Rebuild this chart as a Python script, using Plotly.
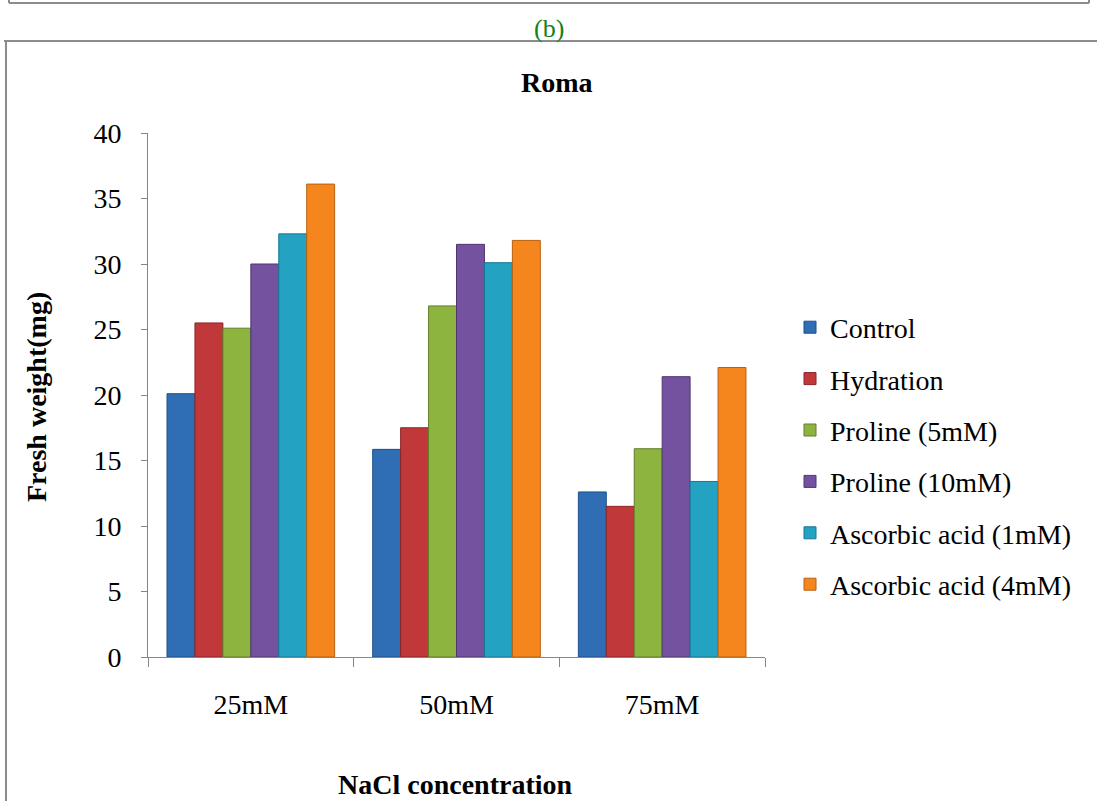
import plotly.graph_objects as go

categories = ["25mM", "50mM", "75mM"]
series_names = ["Control", "Hydration", "Proline (5mM)", "Proline (10mM)",
                "Ascorbic acid (1mM)", "Ascorbic acid (4mM)"]
control = [20.1, 15.85, 12.6]
hydration = [25.5, 17.5, 11.5]
proline_5 = [25.1, 26.8, 15.9]
proline_10 = [30.0, 31.5, 21.4]
ascorbic_1 = [32.3, 30.1, 13.4]
ascorbic_4 = [36.1, 31.8, 22.1]
y_ticks = [0, 5, 10, 15, 20, 25, 30, 35, 40]

series_values = [control, hydration, proline_5, proline_10, ascorbic_1, ascorbic_4]
colors = ["#2F6DB5", "#C0383A", "#8CB43E", "#74529F", "#24A2C2", "#F5861E"]
edges = ["#1E4F87", "#8E2426", "#637F2A", "#4F3671", "#177893", "#B8600F"]

W, H = 1097, 801
L, R, T, B = 148, 765, 133, 657   # plot area in pixels

fig = go.Figure()
for i, (name, vals) in enumerate(zip(series_names, series_values)):
    fig.add_trace(go.Bar(
        x=categories, y=vals, name=name, legendgroup=name,
        marker=dict(color=colors[i], line=dict(color=edges[i], width=1)),
    ))

def px(x):
    return (x - L) / (R - L)

def py(y):
    return (B - y) / (B - T)

serif = "Liberation Serif, Times New Roman, serif"
border = "#8c8c8c"

shapes = [
    dict(type="line", xref="paper", yref="paper", x0=px(9), x1=px(1089), y0=py(3), y1=py(3),
         line=dict(color=border, width=2)),
    dict(type="line", xref="paper", yref="paper", x0=px(9), x1=px(9), y0=py(-4), y1=py(3),
         line=dict(color=border, width=2)),
    dict(type="line", xref="paper", yref="paper", x0=px(1089), x1=px(1089), y0=py(-4), y1=py(3),
         line=dict(color=border, width=2)),
    dict(type="line", xref="paper", yref="paper", x0=px(4), x1=px(1100), y0=py(41), y1=py(41),
         line=dict(color=border, width=2)),
    dict(type="line", xref="paper", yref="paper", x0=px(6), x1=px(6), y0=py(41), y1=py(810),
         line=dict(color=border, width=2)),
]

annotations = [
    dict(text="(b)", xref="paper", yref="paper", x=px(549), y=py(28), showarrow=False,
         font=dict(family=serif, size=26, color="#178017"), xanchor="center", yanchor="middle"),
    dict(text="<b>Roma</b>", xref="paper", yref="paper", x=px(557), y=py(83), showarrow=False,
         font=dict(family=serif, size=28, color="black"), xanchor="center", yanchor="middle"),
    dict(text="<b>NaCl concentration</b>", xref="paper", yref="paper", x=px(455), y=py(784),
         showarrow=False, font=dict(family=serif, size=28, color="black"),
         xanchor="center", yanchor="middle"),
    dict(text="<b>Fresh weight(mg)</b>", xref="paper", yref="paper", x=px(36), y=py(397),
         showarrow=False, textangle=-90, font=dict(family=serif, size=28, color="black"),
         xanchor="center", yanchor="middle"),
]

fig.update_layout(
    width=W, height=H,
    margin=dict(l=L, r=W - R, t=T, b=H - B, pad=0),
    paper_bgcolor="white", plot_bgcolor="white",
    barmode="group", bargap=0.185, bargroupgap=0,
    font=dict(family=serif, size=28, color="black"),
    showlegend=True,
    legend=dict(x=px(790), y=py(456), xanchor="left", yanchor="middle",
                font=dict(family=serif, size=28, color="black"),
                tracegroupgap=12, bgcolor="rgba(0,0,0,0)", itemwidth=30),
    shapes=shapes, annotations=annotations,
)
fig.update_xaxes(showline=True, linecolor="#868686", linewidth=1,
                 ticks="outside", ticklen=9, tickcolor="#868686",
                 tickson="boundaries", showgrid=False,
                 tickfont=dict(family=serif, size=28, color="black"), ticklabelstandoff=22)
fig.update_yaxes(range=[0, 40], tickvals=y_ticks, showline=True, linecolor="#868686",
                 linewidth=1, ticks="outside", ticklen=6, tickcolor="#868686",
                 showgrid=False, zeroline=False,
                 tickfont=dict(family=serif, size=28, color="black"), ticklabelstandoff=14)

fig.write_html("out.html", config={"displayModeBar": False},
               post_script="document.body.style.margin='0';document.body.style.overflow='hidden';")
